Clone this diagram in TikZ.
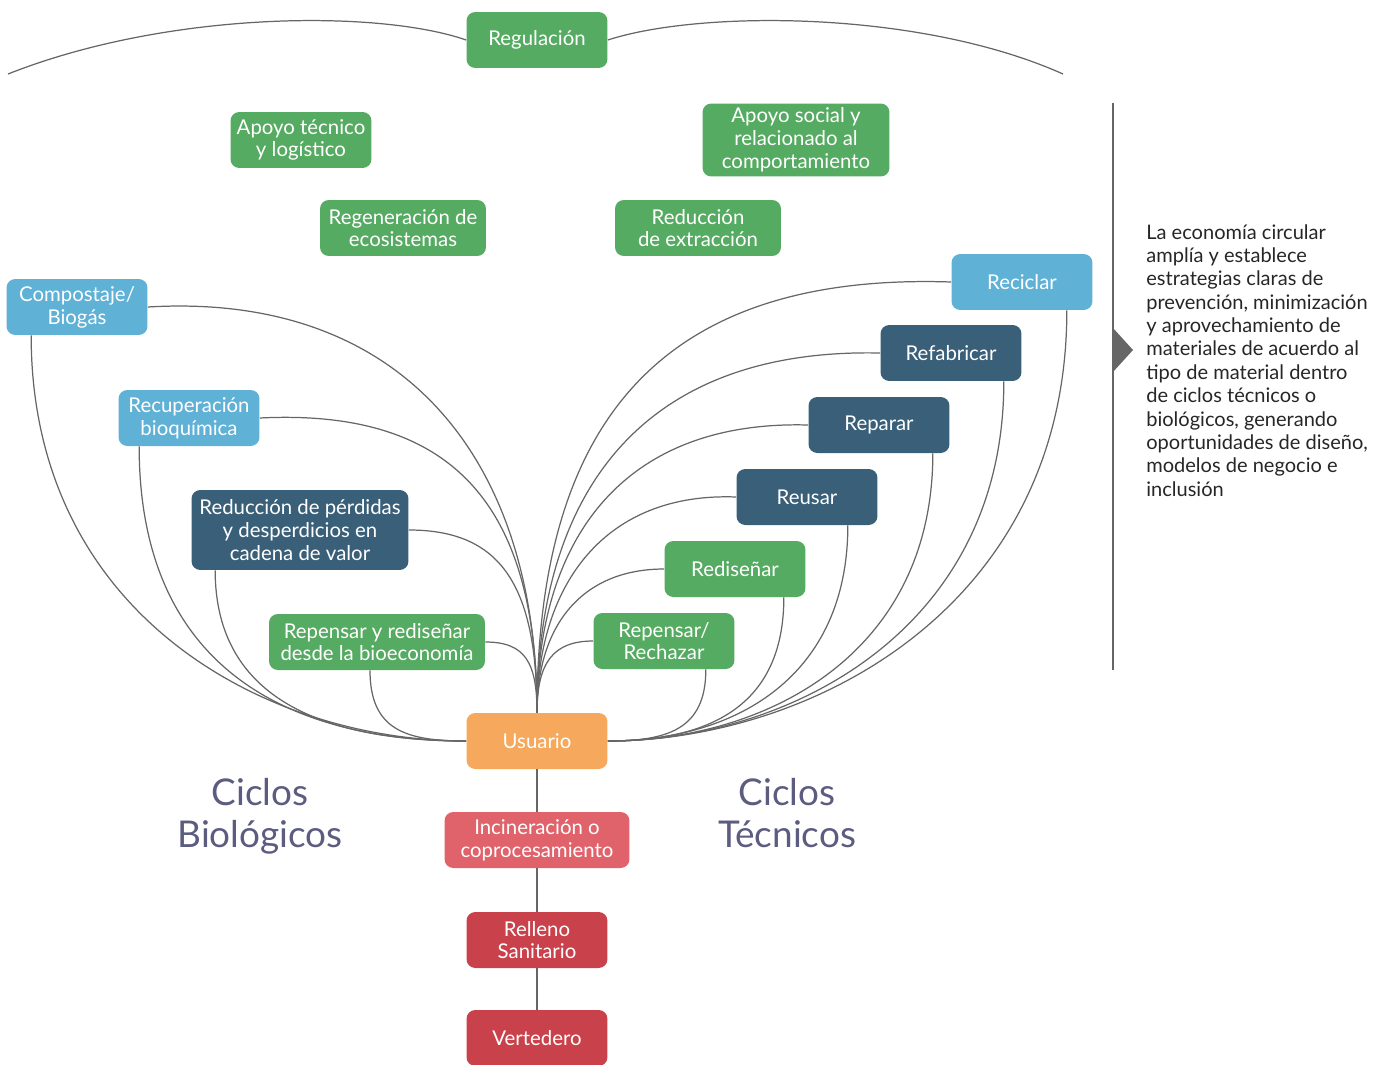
\documentclass[tikz,border=0pt]{standalone}
\usepackage{fontspec}
\setmainfont{Lato}
\definecolor{verde}{HTML}{56AB62}
\definecolor{celeste}{HTML}{5FB1D6}
\definecolor{azul}{HTML}{3A6079}
\definecolor{naranja}{HTML}{F6A95C}
\definecolor{rosa}{HTML}{E0636C}
\definecolor{rojo}{HTML}{C9424B}
\definecolor{ciclo}{HTML}{5C5C80}
\definecolor{linea}{HTML}{666666}
\tikzset{
 caja/.style={rounded corners=5pt,text=white,align=center,minimum width=2.82cm,minimum height=1.12cm,inner sep=1pt,font=\fontsize{11.6}{13}\selectfont},
 cverde/.style={caja,fill=verde},
 cceleste/.style={caja,fill=celeste},
 cazul/.style={caja,fill=azul},
 enlace/.style={draw=linea,line width=0.7pt},
 titulo/.style={text=ciclo,align=center,font=\fontsize{21}{24}\selectfont}
}
\begin{document}
\begin{tikzpicture}[x=0.02cm,y=-0.02cm]
 \useasboundingbox (0,0) rectangle (1387,1065);
 \node[cverde] (reg) at (537,40) {Regulación};
 \node[cverde] (apt) at (301,140) {Apoyo técnico\\y logístico};
 \node[cverde,minimum width=3.74cm,minimum height=1.46cm] (aps) at (796,140) {Apoyo social y\\relacionado al\\comportamiento};
 \node[cverde,minimum width=3.32cm] (rege) at (403,228) {Regeneración de\\ecosistemas};
 \node[cverde,minimum width=3.32cm] (rext) at (698,228) {Reducción\\de extracción};
 \node[cceleste] (comp) at (77,307) {Compostaje/\\Biogás};
 \node[cceleste] (recu) at (189,418) {Recuperación\\bioquímica};
 \node[cazul,minimum width=4.34cm,minimum height=1.6cm] (rper) at (300,530) {Reducción de pérdidas\\y desperdicios en\\cadena de valor};
 \node[cverde,minimum width=4.32cm] (rbio) at (377,642) {Repensar y rediseñar\\desde la bioeconomía};
 \node[cceleste] (reci) at (1022,282) {Reciclar};
 \node[cazul] (refa) at (951,353) {Refabricar};
 \node[cazul] (repa) at (879,425) {Reparar};
 \node[cazul] (reus) at (807,497) {Reusar};
 \node[cverde] (redi) at (735,569) {Rediseñar};
 \node[cverde] (rech) at (664,641) {Repensar/\\Rechazar};
 \node[caja,fill=naranja] (usr) at (537,741) {Usuario};
 \node[caja,fill=rosa,minimum width=3.7cm] (inc) at (537,840) {Incineración o\\coprocesamiento};
 \node[caja,fill=rojo] (rell) at (537,940) {Relleno\\Sanitario};
 \node[caja,fill=rojo] (vert) at (537,1038) {Vertedero};
 \coordinate (izq) at (8,74);
 \coordinate (der) at (1063,74);
 \draw[enlace] (izq) .. controls (170,10) and (380,10) .. (reg.west);
 \draw[enlace] (reg.east) .. controls (700,10) and (920,10) .. (der);
 \draw[enlace] (comp.east) .. controls +(250,-15) and +(0,-260) .. (usr.north);
 \draw[enlace] ([xshift=0.5cm]comp.south west) .. controls +(0,280) and +(-200,0) .. (usr.west);
 \draw[enlace] (recu.east) .. controls +(200,-10) and +(0,-200) .. (usr.north);
 \draw[enlace] ([xshift=0.42cm]recu.south west) .. controls +(0,220) and +(-180,0) .. (usr.west);
 \draw[enlace] (rper.east) .. controls +(90,0) and +(0,-130) .. (usr.north);
 \draw[enlace] ([xshift=0.48cm]rper.south west) .. controls +(0,130) and +(-140,0) .. (usr.west);
 \draw[enlace] (rbio.east) .. controls +(40,0) and +(0,-50) .. (usr.north);
 \draw[enlace] ([xshift=-0.14cm]rbio.south) .. controls +(0,60) and +(-60,0) .. (usr.west);
 \draw[enlace] (reci.west) .. controls +(-300,-10) and +(0,-280) .. (usr.north);
 \draw[enlace] ([xshift=-0.52cm]reci.south east) .. controls +(0,300) and +(200,0) .. (usr.east);
 \draw[enlace] (refa.west) .. controls +(-230,-5) and +(0,-230) .. (usr.north);
 \draw[enlace] ([xshift=-0.36cm]refa.south east) .. controls +(0,250) and +(180,0) .. (usr.east);
 \draw[enlace] (repa.west) .. controls +(-180,-5) and +(0,-180) .. (usr.north);
 \draw[enlace] ([xshift=-0.34cm]repa.south east) .. controls +(0,200) and +(160,0) .. (usr.east);
 \draw[enlace] (reus.west) .. controls +(-130,-5) and +(0,-130) .. (usr.north);
 \draw[enlace] ([xshift=-0.6cm]reus.south east) .. controls +(0,150) and +(130,0) .. (usr.east);
 \draw[enlace] (redi.west) .. controls +(-80,0) and +(0,-90) .. (usr.north);
 \draw[enlace] ([xshift=-0.44cm]redi.south east) .. controls +(0,110) and +(100,0) .. (usr.east);
 \draw[enlace] (rech.west) .. controls +(-40,0) and +(0,-50) .. (usr.north);
 \draw[enlace] ([xshift=-0.58cm]rech.south east) .. controls +(0,60) and +(60,0) .. (usr.east);
 \draw[enlace] (usr) -- (inc) -- (rell) -- (vert);
 \node[titulo] (bio) at (260,816) {Ciclos\\Biológicos};
 \node[titulo] (tec) at (787,813) {Ciclos\\Técnicos};
 \coordinate (barra1) at (1113,103);
 \coordinate (barra2) at (1113,670);
 \draw[linea,line width=1pt] (barra1) -- (barra2);
 \fill[linea] (1113,328) -- (1133,350) -- (1113,372) -- cycle;
 \node[anchor=north west,align=left,inner sep=0pt,text=black!85,font=\fontsize{11.4}{13.3}\selectfont] (txt) at (1146,224) {La economía circular\\amplía y establece\\estrategias claras de\\prevención, minimización\\y aprovechamiento de\\materiales de acuerdo al\\tipo de material dentro\\de ciclos técnicos o\\biológicos, generando\\oportunidades de diseño,\\modelos de negocio e\\inclusión};
\end{tikzpicture}
\end{document}
